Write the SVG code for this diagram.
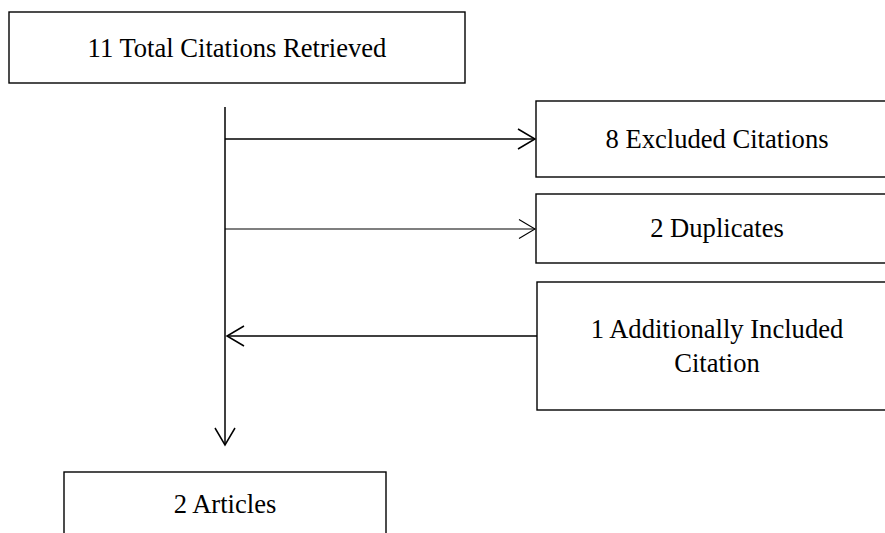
<svg xmlns="http://www.w3.org/2000/svg" width="885" height="533" viewBox="0 0 885 533">
<defs>
<style>
.box{fill:#fff;stroke:#000;stroke-width:1.4}
.t{font-family:"Liberation Serif","Times New Roman",serif;font-size:26.6px;fill:#000;text-anchor:middle}
.ln{fill:none;stroke:#000;stroke-width:1.5}
.hd{fill:none;stroke:#000;stroke-width:1.5;stroke-linejoin:miter}
</style>
</defs>
<rect width="885" height="533" fill="#fff"/>
<g id="connectors">
<line class="ln" x1="225" y1="107" x2="225" y2="445"/>
<polyline class="hd" points="215,428 225,445 235,428"/>
<line class="ln" x1="225" y1="139" x2="535" y2="139"/>
<polyline class="hd" points="518,129 535,139 518,149"/>
<line class="ln" x1="225" y1="229" x2="535" y2="229" style="stroke-width:1.1"/>
<polyline class="hd" points="519,219.5 535,229 519,238.5" style="stroke-width:1.1"/>
<line class="ln" x1="537" y1="336" x2="227" y2="336"/>
<polyline class="hd" points="244,326 227,336 244,346"/>
</g>
<g id="n-total">
<rect class="box" x="9" y="12" width="456" height="71"/>
<text class="t" x="237" y="57">11 Total Citations Retrieved</text>
</g>
<g id="n-excluded">
<rect class="box" x="536" y="101" width="360" height="76"/>
<text class="t" x="717" y="148">8 Excluded Citations</text>
</g>
<g id="n-duplicates">
<rect class="box" x="536" y="194" width="360" height="69"/>
<text class="t" x="717" y="237">2 Duplicates</text>
</g>
<g id="n-additional">
<rect class="box" x="537" y="282" width="360" height="128"/>
<text class="t" x="717" y="338">1 Additionally Included</text>
<text class="t" x="717" y="372">Citation</text>
</g>
<g id="n-articles">
<rect class="box" x="64" y="472" width="322" height="80"/>
<text class="t" x="225" y="513">2 Articles</text>
</g>
</svg>
